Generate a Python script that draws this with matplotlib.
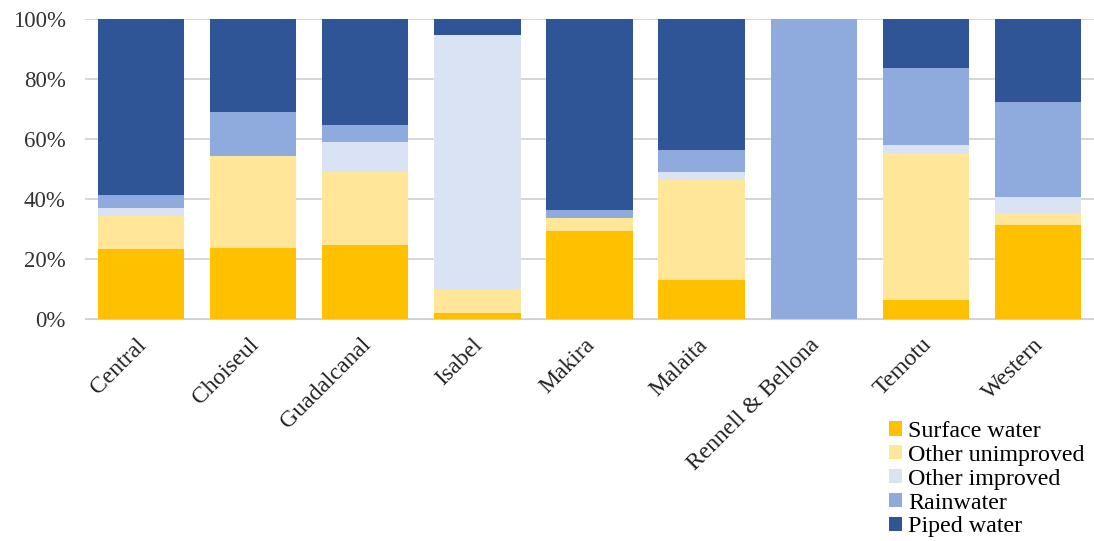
import matplotlib as mpl
mpl.use('Agg')
from matplotlib import pyplot as plt
from matplotlib.transforms import ScaledTranslation
import numpy as np

plt.rcParams['font.family'] = ['Liberation Serif', 'DejaVu Serif']

regions = ['Central', 'Choiseul', 'Guadalcanal', 'Isabel', 'Makira',
           'Malaita', 'Rennell & Bellona', 'Temotu', 'Western']

# shares in percent
surface = [23.4, 23.6, 24.8, 2.0, 29.3, 13.0, 0.0, 6.5, 31.2]
other_unimproved = [10.8, 30.9, 24.2, 7.7, 4.4, 33.4, 0.0, 48.8, 4.2]
other_improved = [2.9, 0.0, 9.9, 85.0, 0.0, 2.5, 0.0, 2.8, 5.2]
rainwater = [4.4, 14.4, 5.7, 0.0, 2.8, 7.6, 100.0, 25.5, 31.9]
piped = [58.5, 31.1, 35.4, 5.3, 63.5, 43.5, 0.0, 16.4, 27.5]

series = [('Surface water', surface, '#FFC000'),
          ('Other unimproved', other_unimproved, '#FFE699'),
          ('Other improved', other_improved, '#DAE3F3'),
          ('Rainwater', rainwater, '#8FAADC'),
          ('Piped water', piped, '#2F5597')]

fig = plt.figure(figsize=(10.94, 5.41), dpi=100)
ax = fig.add_axes([85/1094, 1-319/541, 1-85/1094, (319-19)/541])

x = np.arange(len(regions))
bottom = np.zeros(len(regions))
for name, vals, col in series:
    vals = np.array(vals)
    ax.bar(x, vals, 0.77, bottom=bottom, color=col, label=name, zorder=2)
    bottom += vals

ax.set_ylim(0, 100)
ax.set_xlim(-0.5, len(regions)-0.5)
ax.set_yticks(range(0, 101, 20))
ax.set_yticklabels(['%d%%' % v for v in range(0, 101, 20)], fontsize=16.5, color='#333333')
ax.set_xticks(x)
ax.set_xticklabels(regions, rotation=45, ha='right', rotation_mode='anchor', fontsize=17, color='#222222')
ax.tick_params(axis='y', length=0, pad=14)
ax.tick_params(axis='x', length=0, pad=11)
off = ScaledTranslation(-5/100, 0, fig.dpi_scale_trans)
for lbl in ax.get_xticklabels():
    lbl.set_transform(lbl.get_transform() + off)
ax.grid(axis='y', color='#d0d0d0', linewidth=1.2, zorder=0)
for s in ['top', 'right', 'left']:
    ax.spines[s].set_visible(False)
ax.spines['bottom'].set_color('#d0d0d0')

ax.legend(loc='lower right', bbox_to_anchor=(1.0, -0.76), frameon=False,
          fontsize=17.3, handlelength=0.55, handleheight=0.55, handletextpad=0.25,
          labelspacing=0.12, borderaxespad=0)

fig.savefig('out.png', dpi=100)
